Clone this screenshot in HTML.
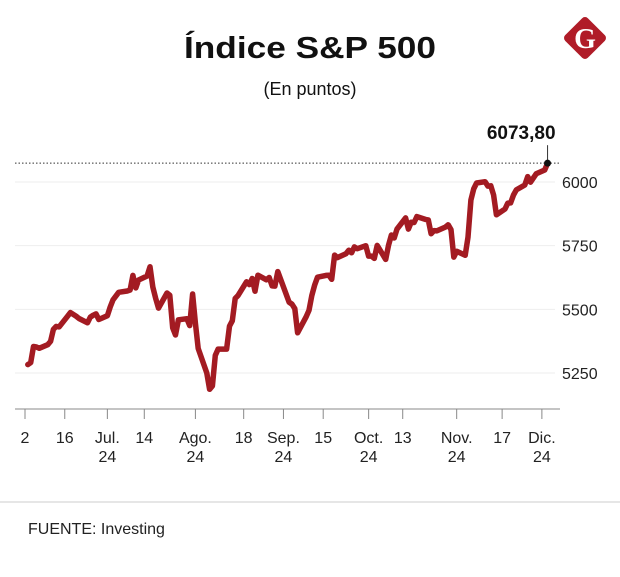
<!DOCTYPE html>
<html><head><meta charset="utf-8"><style>
body{margin:0;width:620px;height:572px;background:#fff;font-family:"Liberation Sans",sans-serif;overflow:hidden}
</style></head><body>
<svg width="620" height="572">
<text x="310" y="58" text-anchor="middle" font-size="31" font-weight="bold" fill="#111" textLength="252" lengthAdjust="spacingAndGlyphs">Índice S&amp;P 500</text>
<text x="310" y="95" text-anchor="middle" font-size="18" fill="#111">(En puntos)</text>
<g>
<rect x="569" y="22" width="32" height="32" rx="4" transform="rotate(45 585 38)" fill="#b01c28"/>
<text x="585" y="48" text-anchor="middle" font-size="28" font-weight="bold" font-family="Liberation Serif, serif" fill="#fff">G</text>
</g>
<g id="grid"></g>
<g id="marks"></g>
<line x1="0" y1="502" x2="620" y2="502" stroke="#ccc"/>
<text x="28" y="534" font-size="16" fill="#222">FUENTE: Investing</text>
</svg>
<script>
const dates=["06-03","06-04","06-05","06-06","06-07","06-10","06-11","06-12","06-13","06-14","06-17","06-18","06-20","06-21","06-24","06-25","06-26","06-27","06-28",
"07-01","07-02","07-03","07-05","07-08","07-09","07-10","07-11","07-12","07-15","07-16","07-17","07-18","07-19","07-22","07-23","07-24","07-25","07-26","07-29","07-30","07-31",
"08-01","08-02","08-05","08-06","08-07","08-08","08-09","08-12","08-13","08-14","08-15","08-16","08-19","08-20","08-21","08-22","08-23","08-26","08-27","08-28","08-29","08-30",
"09-03","09-04","09-05","09-06","09-09","09-10","09-11","09-12","09-13","09-16","09-17","09-18","09-19","09-20","09-23","09-24","09-25","09-26","09-27","09-30",
"10-01","10-02","10-03","10-04","10-07","10-08","10-09","10-10","10-11","10-14","10-15","10-16","10-17","10-18","10-21","10-22","10-23","10-24","10-25","10-28","10-29","10-30","10-31",
"11-01","11-04","11-05","11-06","11-07","11-08","11-11","11-12","11-13","11-14","11-15","11-18","11-19","11-20","11-21","11-22","11-25","11-26","11-27","11-29",
"12-02","12-03"];
const values=[5283,5291,5354,5352,5347,5361,5375,5421,5433,5431,5473,5487,5473,5464,5447,5469,5477,5482,5460,
5475,5509,5537,5567,5572,5576,5633,5584,5615,5631,5667,5588,5544,5505,5564,5555,5427,5399,5459,5463,5436,5560,
5446,5346,5250,5186,5199,5319,5344,5344,5434,5455,5543,5554,5608,5597,5621,5571,5634,5616,5625,5592,5591,5648,
5528,5520,5503,5408,5471,5496,5554,5596,5626,5633,5634,5618,5713,5703,5718,5732,5722,5745,5738,5750,
5709,5709,5700,5751,5696,5751,5792,5780,5815,5859,5815,5842,5841,5864,5853,5851,5797,5809,5808,5823,5832,5813,5705,
5728,5712,5783,5929,5973,5996,6001,5984,5985,5949,5871,5894,5917,5918,5949,5969,5988,6021,5999,6032,
6047,6073.8];
const yTicks=[5250,5500,5750,6000];
const xTickDates=["06-02","06-16","07-01","07-14","08-01","08-18","09-01","09-15","10-01","10-13","11-01","11-17","12-01"];
const xTickLabels=[["2"],["16"],["Jul.","24"],["14"],["Ago.","24"],["18"],["Sep.","24"],["15"],["Oct.","24"],["13"],["Nov.","24"],["17"],["Dic.","24"]];
const lastLabel="6073,80";

const NS="http://www.w3.org/2000/svg";
const base=Date.UTC(2024,5,2);
function day(s){const [m,d]=s.split("-").map(Number);return (Date.UTC(2024,m-1,d)-base)/864e5;}
function xs(s){return 25+day(s)*2.84;}
function ys(v){return 373-(v-5250)*0.2547;}
function mk(t,a,p){const e=document.createElementNS(NS,t);for(const k in a)e.setAttribute(k,a[k]);(p||document.getElementById('marks')).appendChild(e);return e;}
const grid=document.getElementById('grid');
yTicks.forEach(v=>{
 const g=mk('line',{x1:15,x2:555,y1:ys(v),y2:ys(v),stroke:'#eee'},grid);
 
 
 const t=mk('text',{x:562,y:ys(v)+6,'font-size':16,fill:'#222'},grid);
 t.textContent=v;
 
 
});
const ax=mk('line',{x1:15,x2:560,y1:409,y2:409,stroke:'#888'},grid);


xTickDates.forEach((d,i)=>{
 const x=xs(d);
 const tk=mk('line',{x1:x,x2:x,y1:409,y2:419,stroke:'#888'},grid);
 
 
 xTickLabels[i].forEach((s,j)=>{
  const t=mk('text',{x:x,y:443+j*19,'text-anchor':'middle','font-size':16,fill:'#222'},grid);
  t.textContent=s;
  
  
 });
});
const lv=values[values.length-1], lx=xs(dates[dates.length-1]), ly=ys(lv);
const ref=mk('line',{x1:15,x2:560,y1:ly,y2:ly,stroke:'#333','stroke-dasharray':'1.5,2'});


const pts=dates.map((d,i)=>xs(d).toFixed(1)+','+ys(values[i]).toFixed(1)).join(' ');
const pl=mk('polyline',{points:pts,fill:'none',stroke:'#a31b22','stroke-width':5.5,'stroke-linejoin':'round','stroke-linecap':'round'});


const ld=mk('line',{x1:lx,x2:lx,y1:ly,y2:ly-18,stroke:'#333'});


const dot=mk('circle',{cx:lx,cy:ly,r:3.5,fill:'#111'});


const lt=mk('text',{x:lx+8,y:ly-24,'text-anchor':'end','font-size':19,'font-weight':'bold',fill:'#111'});
lt.textContent=lastLabel;


</script>
</body></html>
